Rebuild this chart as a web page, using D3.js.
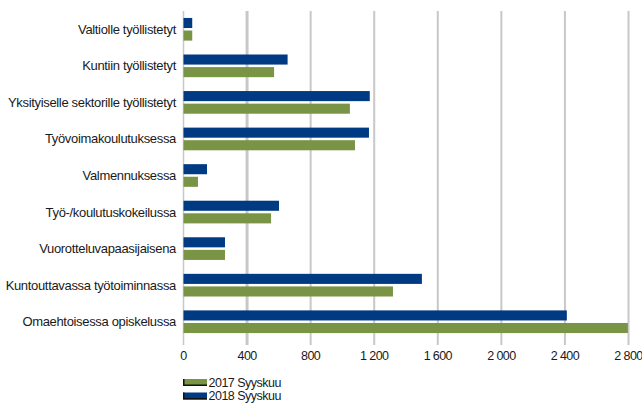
<!DOCTYPE html>
<html>
<head>
  <style>
    body { margin: 0; background: white; }
    text { font-family: "Liberation Sans", Arial, sans-serif; fill: #1a1a1a; }
  </style>
</head>
<body>
  <div id="chart"></div>
  <script src="https://d3js.org/d3.v7.min.js"></script>
  <script>
    var categories = [
      "Valtiolle työllistetyt",
      "Kuntiin työllistetyt",
      "Yksityiselle sektorille työllistetyt",
      "Työvoimakoulutuksessa",
      "Valmennuksessa",
      "Työ-/koulutuskokeilussa",
      "Vuorotteluvapaasijaisena",
      "Kuntouttavassa työtoiminnassa",
      "Omaehtoisessa opiskelussa"
    ];
    var values2018 = [55, 655, 1172, 1167, 148, 601, 261, 1500, 2412];
    var values2017 = [55, 570, 1047, 1079, 91, 551, 261, 1318, 2796];
    var ticks = [0, 400, 800, 1200, 1600, 2000, 2400, 2800];
    var seriesNames = ["2018 Syyskuu", "2017 Syyskuu"];
    var colours = { "2018 Syyskuu": "#003a82", "2017 Syyskuu": "#799445" };

    var width = 642, height = 408;
    var plotLeft = 183.5, plotRight = 628.5, plotTop = 11, plotBottom = 340;

    var svg = d3.select("#chart").append("svg")
        .attr("width", width).attr("height", height);

    var x = d3.scaleLinear().domain([0, 2800]).range([plotLeft, plotRight]);
    var y = d3.scaleBand().domain(categories).range([plotTop, plotBottom])
        .paddingInner(0.38).paddingOuter(0.19);
    var ySub = d3.scaleBand().domain(seriesNames).range([0, y.bandwidth()]).paddingInner(0.2);

    // gridlines
    svg.append("g").selectAll("line")
        .data(ticks.slice(1))
      .enter().append("line")
        .attr("x1", d => x(d)).attr("x2", d => x(d))
        .attr("y1", plotTop).attr("y2", plotBottom + 5)
        .attr("stroke", "#c8c8c8")
        .attr("stroke-width", d => d == 400 ? 3 : 2);

    // zero axis
    svg.append("line")
        .attr("x1", x(0)).attr("x2", x(0))
        .attr("y1", plotTop).attr("y2", plotBottom + 5)
        .attr("stroke", "#c8c8c8").attr("stroke-width", 1.5);

    var rows = [];
    categories.forEach((c, i) => {
      rows.push({ cat: c, s: "2018 Syyskuu", v: values2018[i] });
      rows.push({ cat: c, s: "2017 Syyskuu", v: values2017[i] });
    });

    svg.append("g").selectAll("rect")
        .data(rows)
      .enter().append("rect")
        .attr("x", x(0))
        .attr("y", d => y(d.cat) + ySub(d.s))
        .attr("width", d => x(d.v) - x(0))
        .attr("height", ySub.bandwidth())
        .attr("fill", d => colours[d.s]);

    // category labels
    svg.append("g").selectAll("text")
        .data(categories)
      .enter().append("text")
        .attr("x", 176)
        .attr("y", d => y(d) + y.bandwidth() / 2 + 4.5)
        .attr("text-anchor", "end")
        .attr("font-size", 13)
        .attr("letter-spacing", -0.33)
        .text(d => d);

    // tick labels
    svg.append("g").selectAll("text")
        .data(ticks)
      .enter().append("text")
        .attr("x", d => x(d))
        .attr("y", 360)
        .attr("text-anchor", "middle")
        .attr("font-size", 12.5)
        .attr("letter-spacing", -0.6)
        .text(d => d3.format(",")(d).replace(",", "\u00a0"));

    // legend
    var legend = svg.append("g").selectAll("g")
        .data(["2017 Syyskuu", "2018 Syyskuu"])
      .enter().append("g")
        .attr("transform", (d, i) => "translate(183," + (379 + i * 13.5) + ")");
    legend.append("rect")
        .attr("width", 24).attr("height", 7)
        .attr("fill", d => colours[d]);
    legend.append("path")
        .attr("d", "M0.75,0 V6.25 H24")
        .attr("fill", "none").attr("stroke", "#111").attr("stroke-width", 1.5);
    legend.append("text")
        .attr("x", 25.5).attr("y", 7.5)
        .attr("font-size", 12.5)
        .attr("letter-spacing", -0.5)
        .text(d => d);
  </script>
</body>
</html>
